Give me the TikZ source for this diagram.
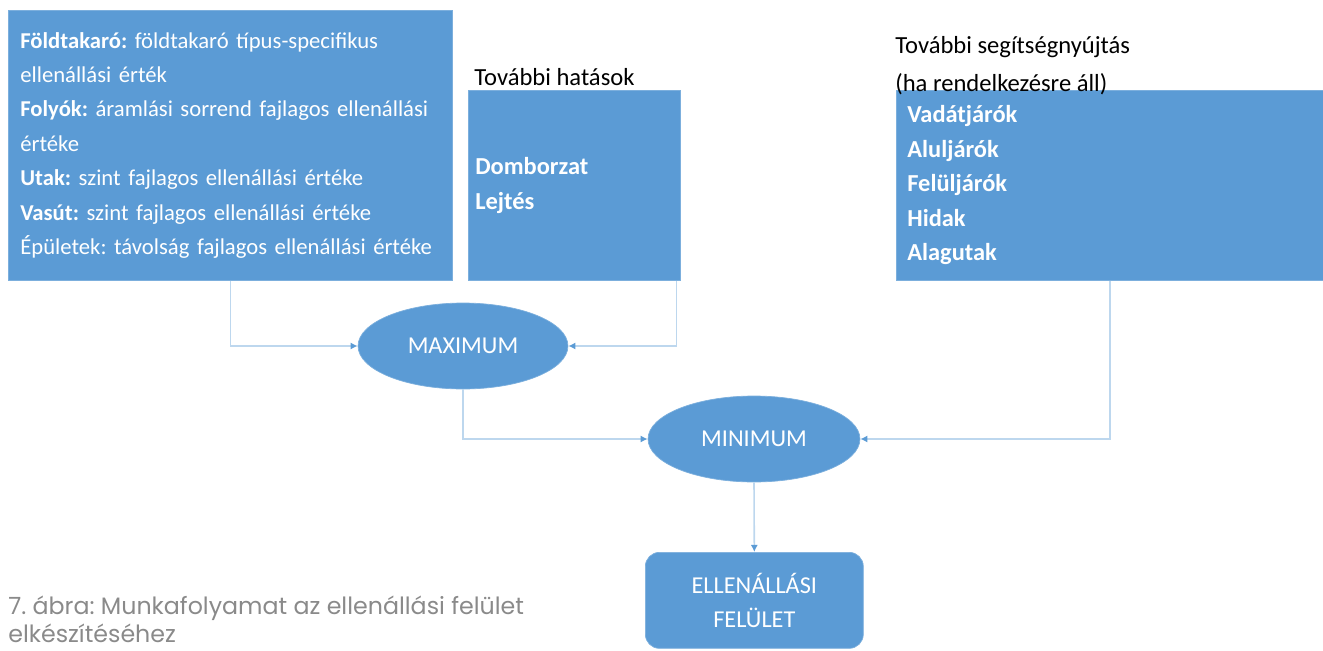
\documentclass[tikz,border=0pt]{standalone}
\usepackage{fontspec}
\setmainfont{Carlito}
\newfontfamily\capfont{Poppins}
\usetikzlibrary{shapes.geometric,arrows.meta}
\definecolor{boxblue}{HTML}{5B9BD5}
\definecolor{linkblue}{HTML}{BDD7EE}
\definecolor{capgray}{HTML}{8A8A8A}
\frenchspacing
\begin{document}
\begin{tikzpicture}[x=0.02cm,y=-0.02cm]
        \tikzstyle{box}=[rectangle,fill=boxblue,draw=boxblue!80,anchor=north west,text=white,align=left,font=\fontsize{13.9}{19.6}\selectfont]
        \tikzstyle{oper}=[ellipse,fill=boxblue,draw=boxblue!80,inner sep=0pt,minimum height=1.72cm,text=white,font=\fontsize{13.8}{19.6}\selectfont]
        \tikzstyle{result}=[rectangle,rounded corners=8pt,fill=boxblue,draw=boxblue!80,anchor=north west,text=white,align=center,minimum width=4.36cm,minimum height=1.92cm,font=\fontsize{13.8}{19.6}\selectfont]
        \tikzstyle{title}=[anchor=west,inner sep=0pt,align=left,font=\fontsize{14}{21.5}\selectfont]
        \tikzstyle{link}=[draw=linkblue,line width=0.9pt,-{Latex[length=4pt,width=4pt,color=boxblue]}]
        \useasboundingbox (0,0) rectangle (1323,650);
        % input boxes
        \node [box,minimum width=8.88cm,minimum height=5.4cm,inner xsep=0.24cm,text width=8.4cm,font=\fontsize{12.9}{19.6}\selectfont] (b1) at (8,10)
          {\textbf{Földtakaró:} földtakaró típus-specifikus\\ellenállási érték\\\textbf{Folyók:} áramlási sorrend fajlagos ellenállási\\értéke\\\textbf{Utak:} szint fajlagos ellenállási értéke\\\textbf{Vasút:} szint fajlagos ellenállási értéke\\Épületek: távolság fajlagos ellenállási értéke};
        \node [box,minimum width=4.24cm,minimum height=3.8cm,inner xsep=0.14cm,text width=3.96cm] (b2) at (468,90)
          {\textbf{Domborzat}\\\textbf{Lejtés}};
        \node [box,minimum width=8.54cm,minimum height=3.8cm,inner xsep=0.22cm,text width=8.1cm] (b3) at (896,90)
          {\textbf{Vadátjárók}\\\textbf{Aluljárók}\\\textbf{Felüljárók}\\\textbf{Hidak}\\\textbf{Alagutak}};
        \node [title] (t2) at (474,77) {További hatások};
        \node [title] (t3) at (895,66) {További segítségnyújtás\\(ha rendelkezésre áll)};
        % operations
        \node [oper,minimum width=4.2cm] (max) at (463,346) {MAXIMUM};
        \node [oper,minimum width=4.24cm] (min) at (754,439) {MINIMUM};
        \node [result] (res) at (645,552) {ELLENÁLLÁSI\\FELÜLET};
        \path[link] (b1.south) |- (max.west);
        \path[link] ([xshift=-0.08cm]b2.south east) |- (max.east);
        \path[link] (max.south) |- (min.west);
        \path[link] (b3.south) |- (min.east);
        \path[link] (min.south) -- (res.north);
        \node [anchor=west,inner sep=0pt,align=left,text=capgray,font=\capfont\fontsize{13.5}{15.9}\selectfont] (cap) at (8,619)
          {7. ábra: Munkafolyamat az ellenállási felület\\elkészítéséhez};
      \end{tikzpicture}
\end{document}
